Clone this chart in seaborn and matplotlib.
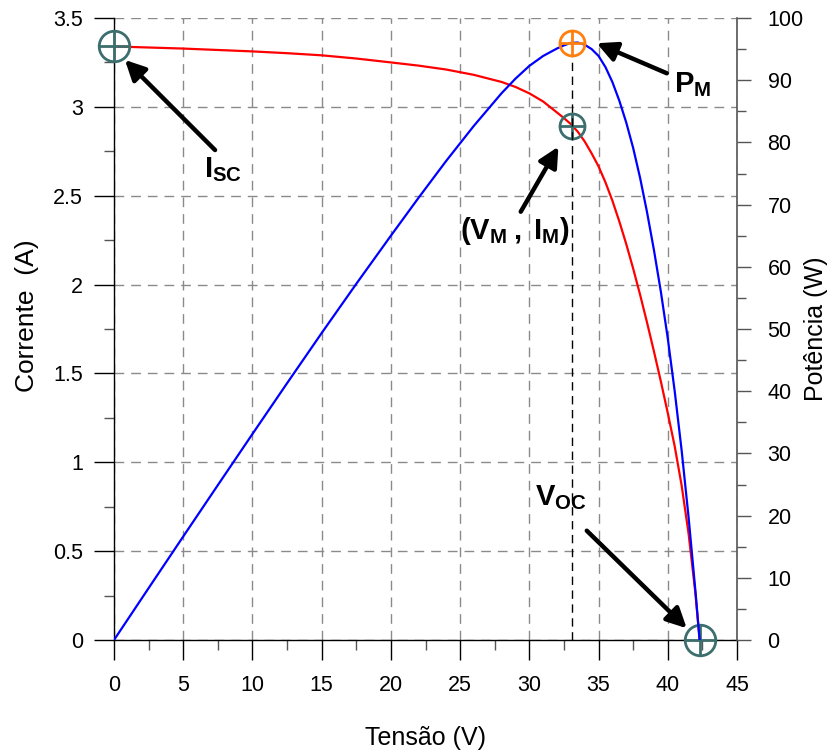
import numpy as np
import pandas as pd
import matplotlib
matplotlib.use("Agg")
import matplotlib.pyplot as plt
import seaborn as sns
from matplotlib.ticker import MultipleLocator, FuncFormatter

# ---- data ----
tensao = [0, 2.5, 5, 7.5, 10, 12.5, 15, 17.5, 20, 22, 24, 26, 28, 29, 30, 31, 32,
          32.5, 33, 33.5, 34, 34.5, 35, 35.5, 36, 36.5, 37, 37.5, 38, 38.5, 39,
          39.5, 40, 40.5, 41, 41.5, 42, 42.3]
corrente = [3.340, 3.334, 3.328, 3.320, 3.312, 3.302, 3.290, 3.272, 3.250, 3.232,
            3.210, 3.180, 3.140, 3.112, 3.076, 3.030, 2.968, 2.937, 2.903, 2.860,
            2.805, 2.738, 2.665, 2.575, 2.472, 2.355, 2.228, 2.090, 1.943, 1.787,
            1.624, 1.455, 1.277, 1.090, 0.870, 0.600, 0.260, 0.000]
potencia = [0.0, 8.34, 16.64, 24.90, 33.12, 41.28, 49.35, 57.26, 65.00, 71.10,
            77.04, 82.68, 87.92, 90.25, 92.30, 93.90, 95.10, 95.60, 96.00, 96.05,
            95.70, 95.00, 93.90, 92.10, 89.70, 86.70, 83.20, 79.10, 74.30, 68.80,
            62.70, 56.00, 48.50, 40.00, 30.50, 19.80, 7.80, 0.0]

i_sc = 3.34          # short-circuit current (A)
v_oc = 42.35         # open-circuit voltage (V)
v_mp = 33.1          # voltage at max power (V)
i_mp = 2.895         # current at max power (A)
p_mp = 96.0          # max power (W)

x_ticks = [0, 5, 10, 15, 20, 25, 30, 35, 40, 45]
yl_ticks = [0, 0.5, 1, 1.5, 2, 2.5, 3, 3.5]
yr_ticks = [0, 10, 20, 30, 40, 50, 60, 70, 80, 90, 100]

# ---- style ----
sns.set_theme(style="white")
plt.rcParams["font.family"] = ["Liberation Sans", "DejaVu Sans"]
plt.rcParams["mathtext.fontset"] = "custom"
plt.rcParams["mathtext.rm"] = "Liberation Sans"
plt.rcParams["mathtext.bf"] = "Liberation Sans:bold"
plt.rcParams["mathtext.it"] = "Liberation Sans:italic"

W, H = 830, 753
fig = plt.figure(figsize=(W / 100, H / 100), dpi=100)
L, R, T, B = 114, 737, 18, 640
ax = fig.add_axes([L / W, 1 - B / H, (R - L) / W, (B - T) / H])
ax2 = ax.twinx()

df = pd.DataFrame({"Tensão": tensao, "Corrente": corrente, "Potência": potencia})

sns.lineplot(data=df, x="Tensão", y="Corrente", ax=ax, color="#FF0000", lw=1.6,
             sort=False, estimator=None, zorder=3)
sns.lineplot(data=df, x="Tensão", y="Potência", ax=ax2, color="#0000FF", lw=1.6,
             sort=False, estimator=None, zorder=3)

ax.set_xlim(0, 45)
ax.set_ylim(0, 3.5)
ax2.set_ylim(0, 100)

ax.xaxis.set_minor_locator(MultipleLocator(2.5))
ax.yaxis.set_minor_locator(MultipleLocator(0.25))
ax2.yaxis.set_minor_locator(MultipleLocator(5))
ax.set_xticks(x_ticks)
ax.set_yticks(yl_ticks)
ax2.set_yticks(yr_ticks)
fmt = FuncFormatter(lambda v, p: f"{v:g}")
ax.xaxis.set_major_formatter(fmt)
ax.yaxis.set_major_formatter(fmt)
ax2.yaxis.set_major_formatter(fmt)

# grid
ax.grid(True, which="major", color="#8a8a8a", lw=1.0, linestyle=(0, (7, 5)))
ax2.grid(False)

# spines
for s in ["top", "right"]:
    ax.spines[s].set_visible(False)
for s in ["left", "bottom"]:
    ax.spines[s].set_color("black")
    ax.spines[s].set_linewidth(1.0)
for s in ["left", "top", "bottom"]:
    ax2.spines[s].set_visible(False)
ax2.spines["right"].set_color("#555555")
ax2.spines["right"].set_linewidth(1.2)

ax.tick_params(axis="both", which="major", direction="out", length=14.5, width=1.0,
               color="black", labelsize=15.5, bottom=True, left=True, labelcolor="black")
ax.tick_params(axis="both", which="minor", direction="out", length=7, width=1.0,
               color="#555555", bottom=True, left=True)
ax.tick_params(axis="y", which="major", pad=8)
ax.tick_params(axis="x", which="major", pad=11)
ax2.tick_params(axis="y", which="major", direction="out", length=10, width=1.0,
                color="#555555", labelsize=15.5, right=True, pad=12, labelcolor="black")
ax2.tick_params(axis="y", which="minor", direction="out", length=6.5, width=1.0,
                color="#555555", right=True)

# axis labels
ax.set_xlabel("Tensão (V)", fontsize=18, color="black")
ax.set_ylabel("Corrente  (A)", fontsize=19, color="black")
ax2.set_ylabel("Potência (W)", fontsize=18, color="black")
ax.xaxis.set_label_coords(0.5, (B - 738) / (B - T))
ax.xaxis.label.set_va("center")
ax.yaxis.set_label_coords((27 - L) / (R - L), (B - 316) / (B - T))
ax.yaxis.label.set_va("center")
ax2.yaxis.set_label_coords((816 - L) / (R - L), 0.5)
ax2.yaxis.label.set_va("center")

# max-power vertical dashed line
ax2.plot([v_mp, v_mp], [0, p_mp - 2.0], color="black", lw=1.0,
         linestyle=(0, (6, 4)), zorder=2)

# markers
green = "#3D6E6E"
orange = "#FF7F0E"
for (xv, yv, ms, a) in [(0, i_sc, 22, ax), (v_oc, 0, 22, ax), (v_mp, i_mp, 18, ax)]:
    a.plot([xv], [yv], marker="o", ms=ms, mfc="none", mec=green, mew=2.0,
           clip_on=False, zorder=6, linestyle="none")
    a.plot([xv], [yv], marker="+", ms=ms, mec=green, mew=2.0,
           clip_on=False, zorder=6, linestyle="none")
ax2.plot([v_mp], [p_mp], marker="o", ms=18, mfc="none", mec=orange, mew=2.0,
         clip_on=False, zorder=6, linestyle="none")
ax2.plot([v_mp], [p_mp], marker="+", ms=18, mec=orange, mew=2.0,
         clip_on=False, zorder=6, linestyle="none")

# annotations
arrow_kw = dict(arrowstyle="-|>,head_length=0.6,head_width=0.3", lw=3.2,
                color="black", shrinkA=0, shrinkB=0, mutation_scale=20)
ax.annotate("", xy=(0.79, 3.264), xytext=(7.3, 2.757), arrowprops=arrow_kw, zorder=7)
ax.annotate("", xy=(34.87, 3.358), xytext=(39.93, 3.189), arrowprops=arrow_kw, zorder=7)
ax.annotate("", xy=(32.1, 2.776), xytext=(29.38, 2.41), arrowprops=arrow_kw, zorder=7)
ax.annotate("", xy=(41.37, 0.066), xytext=(34.15, 0.615), arrowprops=arrow_kw, zorder=7)

tkw = dict(fontsize=21, color="black", ha="center", va="center", zorder=8)
ax.text(7.9, 2.645, r"$\mathbf{I_{SC}}$", **tkw)
ax.text(41.8, 3.125, r"$\mathbf{P_{M}}$", **tkw)
ax.text(28.95, 2.30, r"$\mathbf{(V_{M}\;,\;I_{M})}$", **tkw)
ax.text(32.3, 0.80, r"$\mathbf{V_{OC}}$", **tkw)

fig.savefig("out.png", dpi=100)
